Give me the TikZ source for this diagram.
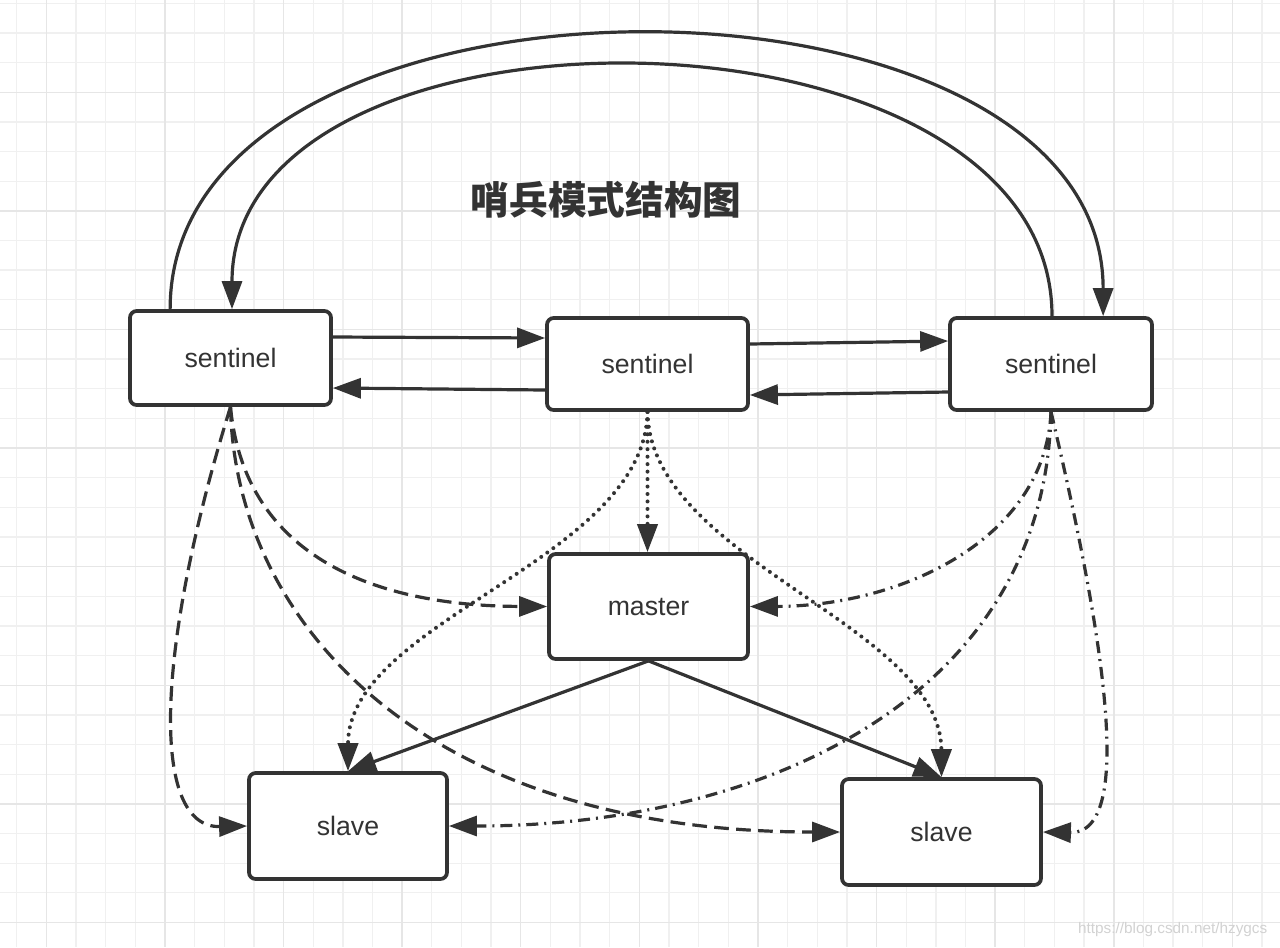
\documentclass[tikz,border=0pt]{standalone}
\usepackage{fontspec}
\setmainfont{Liberation Sans}
\newfontfamily\cjk{Noto Sans CJK SC}
\usetikzlibrary{arrows.meta,calc}
\definecolor{ink}{HTML}{333333}
\definecolor{gridc}{HTML}{F0F0F0}
\definecolor{gridm}{HTML}{E6E6E6}
\pgfdeclarelayer{bg}
\pgfdeclarelayer{edges}
\pgfsetlayers{bg,edges,main}
\tikzset{
  box/.style={draw=ink, line width=2.8pt, rounded corners=5pt, fill=white, inner sep=0pt, text=ink, font=\fontsize{20}{23}\selectfont},
  conn/.style={draw=ink, line width=2.4pt, -{Triangle[length=21pt,width=15pt]}},
  dashline/.style={conn, dash pattern=on 11pt off 5.5pt},
  dotline/.style={conn, line width=3pt, line cap=round, dash pattern=on 0pt off 5.6pt},
  dashdotline/.style={conn, dash pattern=on 9pt off 4.5pt on 1.5pt off 4.5pt},
  gridminor/.style={draw=gridc, line width=1pt},
  gridmajor/.style={draw=gridm, line width=1.1pt},
}
\begin{document}
\begin{tikzpicture}[x=0.75pt,y=-0.75pt]
\useasboundingbox (0,0) rectangle (1280,947);
\begin{pgfonlayer}{bg}
  \fill[white] (0,0) rectangle (1280,947);
  \foreach \i in {0,...,43} {\draw[gridminor] ({16.7+29.65*\i},0) -- ({16.7+29.65*\i},947);}
  \foreach \j in {0,...,31} {\draw[gridminor] (0,{3.3+29.65*\j}) -- (1280,{3.3+29.65*\j});}
  \foreach \i in {0,...,10} {\draw[gridmajor] ({46.35+118.6*\i},0) -- ({46.35+118.6*\i},947);}
  \foreach \j in {0,...,7} {\draw[gridmajor] (0,{92.25+118.6*\j}) -- (1280,{92.25+118.6*\j});}
\end{pgfonlayer}

\node[text=ink, font=\cjk\bfseries\fontsize{29}{34}\selectfont] (title) at (606,200) {哨兵模式结构图};

\node[box, minimum width=150.75pt, minimum height=70.5pt] (s1) at (230.5,358) {sentinel};
\node[box, minimum width=150.75pt, minimum height=69pt] (s2) at (647.5,364) {sentinel};
\node[box, minimum width=151.5pt, minimum height=69pt] (s3) at (1051,364) {sentinel};
\node[box, minimum width=149.25pt, minimum height=78.75pt] (m) at (648.5,606.5) {master};
\node[box, minimum width=148.5pt, minimum height=79.5pt] (l) at (348,826) {slave};
\node[box, minimum width=149.25pt, minimum height=79.5pt] (r) at (941.5,832) {slave};

\node[anchor=east, text=gray!35, font=\fontsize{11.5}{13}\selectfont] (wm) at (1272,930) {https://blog.csdn.net/hzygcs};

\begin{pgfonlayer}{edges}
  % big arcs
  \draw[conn] ($(s1.north west)+(42,0)$) .. controls +(0,-368) and +(0,-372) .. ($(s3.north west)+(155,0)$);
  \draw[conn] ($(s3.north)+(1,0)$) .. controls +(0,-328) and +(0,-328) .. ($(s1.north)+(1.5,0)$);
  % horizontal arrows
  \draw[conn] ($(s1.east)+(0,-21)$) -- ($(s2.west)+(0,-26)$);
  \draw[conn] ($(s2.west)+(0,26)$) -- ($(s1.east)+(0,30)$);
  \draw[conn] ($(s2.east)+(0,-20)$) -- ($(s3.west)+(0,-23)$);
  \draw[conn] ($(s3.west)+(0,28)$) -- ($(s2.east)+(0,31)$);
  % dashed from left sentinel
  \draw[dashline] (s1.south) .. controls (155,650) and (150,828) .. (l.west);
  \draw[dashline] (s1.south) .. controls (245,560) and (380,606) .. (m.west);
  \draw[dashline] (s1.south) .. controls (235,620) and (420,832) .. (r.west);
  % dotted from middle sentinel
  \draw[dotline] (s2.south) -- (s2.south |- m.north);
  \draw[dotline] (s2.south) .. controls (645,560) and (348,620) .. (l.north);
  \draw[dotline] (s2.south) .. controls (650,560) and (941,625) .. (r.north);
  % dash-dot from right sentinel
  \draw[dashdotline] (s3.south) .. controls (1045,540) and (900,606) .. (m.east);
  \draw[dashdotline] (s3.south) .. controls (1045,700) and (760,826) .. (l.east);
  \draw[dashdotline] (s3.south) .. controls (1105,640) and (1135,834) .. (r.east);
  % master to slaves
  \draw[conn] (m.south) -- (l.north);
  \draw[conn] (m.south) -- (r.north);
\end{pgfonlayer}
\end{tikzpicture}
\end{document}
